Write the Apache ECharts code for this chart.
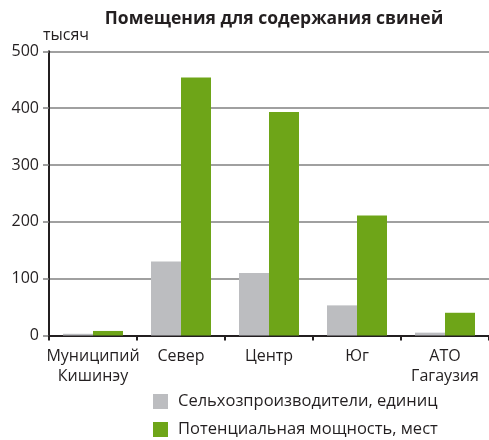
<!DOCTYPE html>
<html>
<head>
<meta charset="utf-8">
<script src="https://cdn.jsdelivr.net/npm/echarts@6/dist/echarts.min.js"></script>
<style>
  html, body { margin: 0; padding: 0; background: #fff; }
  #chart { width: 489px; height: 440px; }
</style>
</head>
<body>
<div id="chart"></div>
<script>
// Pig housing capacity by region
const regions = ['Муниципий\nКишинэу', 'Север', 'Центр', 'Юг', 'АТО\nГагаузия'];
const producers = [3, 130, 110, 53, 5];        // Сельхозпроизводители, единиц
const capacity = [8, 454, 393, 211, 40];        // Потенциальная мощность, мест (тысяч)
const yTicks = [0, 100, 200, 300, 400, 500];
const seriesNames = ['Сельхозпроизводители, единиц', 'Потенциальная мощность, мест'];

const FONT = '"Open Sans", "Noto Sans", sans-serif';
const TEXT = '#231f20';

const chart = echarts.init(document.getElementById('chart'), null, { renderer: 'canvas' });

chart.setOption({
  animation: false,
  textStyle: { fontFamily: FONT, color: TEXT },
  title: {
    text: 'Помещения для содержания свиней',
    left: 269,
    top: 5,
    textAlign: 'center',
    textStyle: { fontFamily: FONT, fontSize: 17.5, fontWeight: 'bold', color: TEXT }
  },
  legend: {
    orient: 'vertical',
    left: 153,
    top: 393,
    padding: 0,
    itemWidth: 15,
    itemHeight: 15,
    itemGap: 11,
    icon: 'rect',
    textStyle: { fontFamily: FONT, fontSize: 16.5, color: TEXT, padding: [0, 0, 0, 5] },
    data: seriesNames
  },
  grid: { left: 49, right: 0, top: 51.3, bottom: 104.5, containLabel: false },
  xAxis: {
    type: 'category',
    data: regions,
    axisLine: { lineStyle: { color: TEXT, width: 2 } },
    axisTick: { show: true, length: 5, lineStyle: { color: TEXT, width: 2 } },
    axisLabel: { fontFamily: FONT, fontSize: 16, color: TEXT, margin: 11, lineHeight: 20, interval: 0 }
  },
  yAxis: {
    type: 'value',
    min: yTicks[0],
    max: yTicks[yTicks.length - 1],
    interval: 100,
    name: 'тысяч',
    nameLocation: 'end',
    nameGap: 8,
    nameTextStyle: { fontFamily: FONT, fontSize: 16, color: TEXT, align: 'left', padding: [0, 0, 0, -6] },
    axisLine: { show: true, lineStyle: { color: TEXT, width: 2 } },
    axisTick: { show: true, length: 6, lineStyle: { color: '#808080', width: 1.5 } },
    axisLabel: { fontFamily: FONT, fontSize: 16, color: TEXT, margin: 10 },
    splitLine: { show: true, lineStyle: { color: '#808080', width: 1.5 } }
  },
  series: [
    {
      name: seriesNames[0],
      type: 'bar',
      data: producers,
      barWidth: 30,
      barGap: '0%',
      itemStyle: { color: '#bcbdc0' }
    },
    {
      name: seriesNames[1],
      type: 'bar',
      data: capacity,
      barWidth: 30,
      itemStyle: { color: '#6ea518' }
    }
  ]
});
</script>
</body>
</html>
